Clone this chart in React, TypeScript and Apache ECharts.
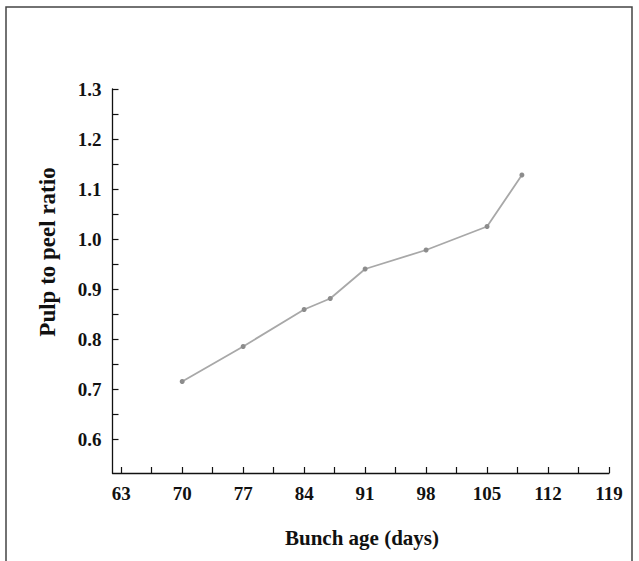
import React, { useEffect, useRef } from "react";
import * as echarts from "echarts";

// Bunch age (days) and the measured pulp-to-peel ratio
const bunchAge = [70, 77, 84, 87, 91, 98, 105, 109];
const pulpPeelRatio = [0.715, 0.785, 0.859, 0.881, 0.94, 0.978, 1.025, 1.128];

// Axis ticks and labels
const xLabelValues = [63, 70, 77, 84, 91, 98, 105, 112, 119];
const xTickValues = [63, 66.5, 70, 73.5, 77, 80.5, 84, 87.5, 91, 94.5, 98, 101.5, 105, 108.5, 112, 115.5, 119];
const yLabelValues = [0.6, 0.7, 0.8, 0.9, 1.0, 1.1, 1.2, 1.3];
const yTickValues = [0.6, 0.65, 0.7, 0.75, 0.8, 0.85, 0.9, 0.95, 1.0, 1.05, 1.1, 1.15, 1.2, 1.25, 1.3];

const FONT = "'Liberation Serif', 'Times New Roman', serif";

export default function App() {
  const ref = useRef<HTMLDivElement>(null);

  useEffect(() => {
    if (!ref.current) return;
    const chart = echarts.init(ref.current, null, { renderer: "svg" });
    const axisLine = { show: true, lineStyle: { color: "#111", width: 1.3 } };
    chart.setOption({
      animation: false,
      backgroundColor: "#fff",
      grid: { left: 112.5, top: 89, right: 30, bottom: 88, containLabel: false },
      xAxis: {
        type: "value",
        min: 62,
        max: 119,
        axisLine: { ...axisLine, onZero: false },
        axisTick: {
          show: true,
          inside: true,
          length: 6,
          customValues: xTickValues,
          lineStyle: { color: "#111", width: 1.2 },
        },
        axisLabel: {
          customValues: xLabelValues,
          margin: 11,
          fontFamily: FONT,
          fontWeight: "bold",
          fontSize: 19,
          color: "#111",
        },
        splitLine: { show: false },
      },
      yAxis: {
        type: "value",
        min: 0.532,
        max: 1.3,
        axisLine,
        axisTick: {
          show: true,
          inside: true,
          length: 6,
          customValues: yTickValues,
          lineStyle: { color: "#111", width: 1.2 },
        },
        axisLabel: {
          customValues: yLabelValues,
          margin: 11,
          fontFamily: FONT,
          fontWeight: "bold",
          fontSize: 19,
          color: "#111",
          formatter: (v: number) => v.toFixed(1),
        },
        splitLine: { show: false },
      },
      series: [
        {
          type: "line",
          data: bunchAge.map((x, i) => [x, pulpPeelRatio[i]]),
          symbol: "circle",
          symbolSize: 5,
          lineStyle: { color: "#a8a8a8", width: 1.8 },
          itemStyle: { color: "#8c8c8c" },
        },
      ],
      graphic: [
        {
          type: "rect",
          shape: { x: 6, y: 7, width: 626, height: 600 },
          style: { fill: "none", stroke: "#444", lineWidth: 1.5 },
          silent: true,
        },
        {
          type: "text",
          x: 47,
          y: 252,
          rotation: Math.PI / 2,
          style: {
            text: "Pulp to peel ratio",
            fontFamily: FONT,
            fontWeight: "bold",
            fontSize: 23,
            fill: "#111",
            align: "center",
            verticalAlign: "middle",
          },
        },
        {
          type: "text",
          x: 362,
          y: 538,
          style: {
            text: "Bunch age (days)",
            fontFamily: FONT,
            fontWeight: "bold",
            fontSize: 21,
            fill: "#111",
            align: "center",
            verticalAlign: "middle",
          },
        },
      ],
    });
    return () => chart.dispose();
  }, []);

  return (
    <div
      ref={ref}
      style={{ position: "fixed", left: 0, top: 0, width: 639, height: 561, background: "#fff" }}
    />
  );
}
